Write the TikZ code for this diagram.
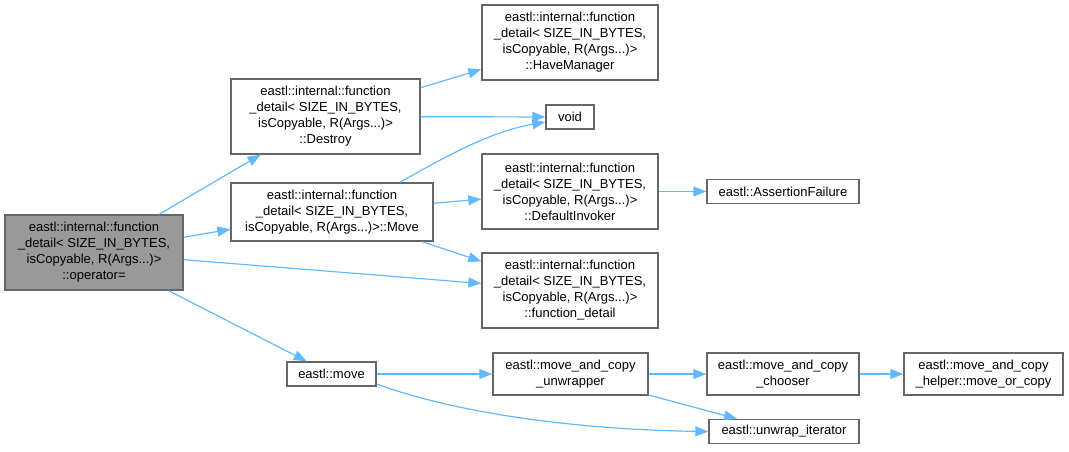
\documentclass[tikz,border=0pt]{standalone}
\usepackage{fontspec}
\setmainfont{Liberation Sans}
\usepackage{tikz}
\usetikzlibrary{arrows.meta, positioning, calc}
\definecolor{edgeblue}{HTML}{63B8FF}
\definecolor{boxgray}{HTML}{666666}
\definecolor{curgray}{HTML}{999999}

\begin{document}
\begin{tikzpicture}[
    x=1pt, y=-1pt,
    fn/.style={draw=boxgray, line width=1.4pt, fill=white, align=center, inner sep=2pt,
        font=\fontsize{13}{16}\selectfont},
    arrow/.style={-{Triangle[length=13pt, width=10pt]}, draw=edgeblue, line width=1.2pt},
]
    \useasboundingbox (0,0) rectangle (1069,451);

    \node[fn, fill=curgray, minimum width=178pt, minimum height=75pt] (opassign) at (94,252.5)
        {eastl::internal::function\\\_detail< SIZE\_IN\_BYTES,\\isCopyable, R(Args...)>\\::operator=};

    \node[fn, minimum width=189pt, minimum height=75pt] (destroy) at (325.5,116.5)
        {eastl::internal::function\\\_detail< SIZE\_IN\_BYTES,\\isCopyable, R(Args...)>\\::Destroy};
    \node[fn, minimum width=202pt, minimum height=58pt] (movefn) at (332,212)
        {eastl::internal::function\\\_detail< SIZE\_IN\_BYTES,\\isCopyable, R(Args...)>::Move};
    \node[fn, minimum width=89pt, minimum height=24pt] (emove) at (331.5,374) {eastl::move};

    \node[fn, minimum width=176pt, minimum height=75pt] (havemgr) at (570,42.5)
        {eastl::internal::function\\\_detail< SIZE\_IN\_BYTES,\\isCopyable, R(Args...)>\\::HaveManager};
    \node[fn, minimum width=48pt, minimum height=24pt] (void) at (570,117) {void};
    \node[fn, minimum width=176pt, minimum height=75pt] (definvoker) at (570,191.5)
        {eastl::internal::function\\\_detail< SIZE\_IN\_BYTES,\\isCopyable, R(Args...)>\\::DefaultInvoker};
    \node[fn, minimum width=176pt, minimum height=75pt] (fndetail) at (570,290.5)
        {eastl::internal::function\\\_detail< SIZE\_IN\_BYTES,\\isCopyable, R(Args...)>\\::function\_detail};
    \node[fn, minimum width=155pt, minimum height=42pt] (unwrapper) at (570.5,374)
        {eastl::move\_and\_copy\\\_unwrapper};

    \node[fn, minimum width=152pt, minimum height=24pt] (assertfail) at (783,191.5) {eastl::AssertionFailure};
    \node[fn, minimum width=152pt, minimum height=42pt] (chooser) at (783,374)
        {eastl::move\_and\_copy\\\_chooser};
    \node[fn, minimum width=150pt, minimum height=24pt] (unwrapiter) at (784,431.5) {eastl::unwrap\_iterator};
    \node[fn, minimum width=159pt, minimum height=42pt] (moveorcopy) at (983.5,374)
        {eastl::move\_and\_copy\\\_helper::move\_or\_copy};

    \draw[arrow] (opassign) -- (destroy);
    \draw[arrow] (opassign) -- (movefn);
    \draw[arrow] (opassign) -- (fndetail);
    \draw[arrow] (opassign) -- (emove);

    \draw[arrow] (destroy) -- (havemgr);
    \draw[arrow] (destroy) -- (void);
    \draw[arrow] ([xshift=68pt]movefn.north) .. controls (465,145) and (500,130) .. ([yshift=-5pt]void.west);
    \draw[arrow] (movefn) -- (definvoker);
    \draw[arrow] (movefn) -- (fndetail);
    \draw[arrow] (definvoker) -- (assertfail);

    % eastl::move chain
    \draw[arrow] ([yshift=-10pt]emove.east) .. controls (470,418) and (600,430) .. (unwrapiter.west);
    \draw[arrow] (emove) -- (unwrapper);
    \draw[arrow] (unwrapper) -- (chooser);
    \draw[arrow] (unwrapper) -- (unwrapiter);
    \draw[arrow] (chooser) -- (moveorcopy);
\end{tikzpicture}
\end{document}
